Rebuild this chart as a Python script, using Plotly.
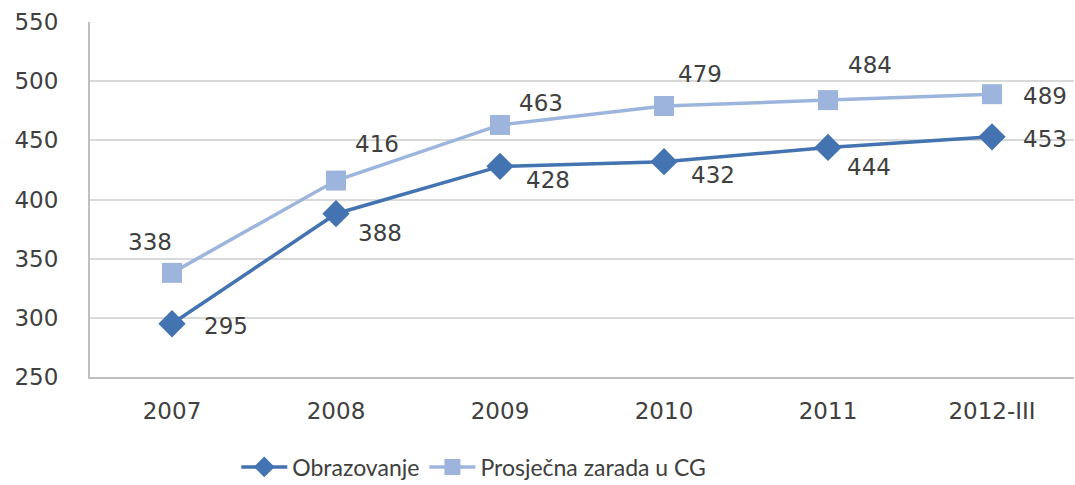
import plotly.graph_objects as go

categories = ["2007", "2008", "2009", "2010", "2011", "2012-III"]
obrazovanje = [295, 388, 428, 432, 444, 453]
prosjecna = [338, 416, 463, 479, 484, 489]
y_ticks = [250, 300, 350, 400, 450, 500, 550]

# label offsets in pixels (style only)
obr_dx = [54, 44, 48, 49, 41, 53]
obr_dy = [-2, -19, -14, -13, -20, -2]
pro_dx = [-22, 41, 41, 36, 42, 53]
pro_dy = [31, 37, 22, 32, 35, -2]

DARK = "#4373B0"
LIGHT = "#9DB5DD"
TXT = "#404040"

fig = go.Figure()
fig.add_trace(go.Scatter(
    x=categories, y=obrazovanje, name="Obrazovanje",
    mode="lines+markers",
    line=dict(color=DARK, width=3.5),
    marker=dict(symbol="diamond", size=21, color=DARK),
))
fig.add_trace(go.Scatter(
    x=categories, y=prosjecna, name="Prosječna zarada u CG",
    mode="lines+markers",
    line=dict(color=LIGHT, width=3.5),
    marker=dict(symbol="square", size=20, color=LIGHT),
))

annotations = []
for vals, dxs, dys in ((obrazovanje, obr_dx, obr_dy), (prosjecna, pro_dx, pro_dy)):
    for i, (v, dx, dy) in enumerate(zip(vals, dxs, dys)):
        annotations.append(dict(
            x=i, y=v, xref="x", yref="y", text=str(v), showarrow=False,
            xshift=dx, yshift=dy, xanchor="center", yanchor="middle",
            font=dict(family="DejaVu Sans", size=23, color=TXT),
        ))

fig.update_layout(
    width=1075, height=485,
    margin=dict(l=90, r=1, t=22, b=108, autoexpand=False),
    paper_bgcolor="white", plot_bgcolor="white",
    showlegend=True,
    annotations=annotations,
    legend=dict(orientation="h", x=0.39, xanchor="center", y=-0.2535, yanchor="middle",
                itemwidth=46,
                font=dict(family="Lato", size=23, color=TXT)),
    font=dict(family="DejaVu Sans", color=TXT),
)
fig.update_xaxes(type="category", range=[-0.5, 5.5], showgrid=False,
                 showline=True, linecolor="#BFBFBF", linewidth=2,
                 tickfont=dict(family="DejaVu Sans", size=23, color=TXT),
                 ticks="", ticklabelstandoff=12, automargin=False)
fig.update_yaxes(range=[250, 550], tickvals=y_ticks, showgrid=True,
                 gridcolor="#D9D9D9", gridwidth=2,
                 showline=True, linecolor="#BFBFBF", linewidth=2,
                 zeroline=False, mirror=False,
                 tickfont=dict(family="DejaVu Sans", size=23, color=TXT),
                 ticks="", ticklabelstandoff=25, automargin=False)

# remove the browser's default body margin so the figure sits at the window origin
fig.write_html("out.html", config={"displayModeBar": False},
               post_script="document.body.style.margin='0';document.body.style.overflow='hidden';")
